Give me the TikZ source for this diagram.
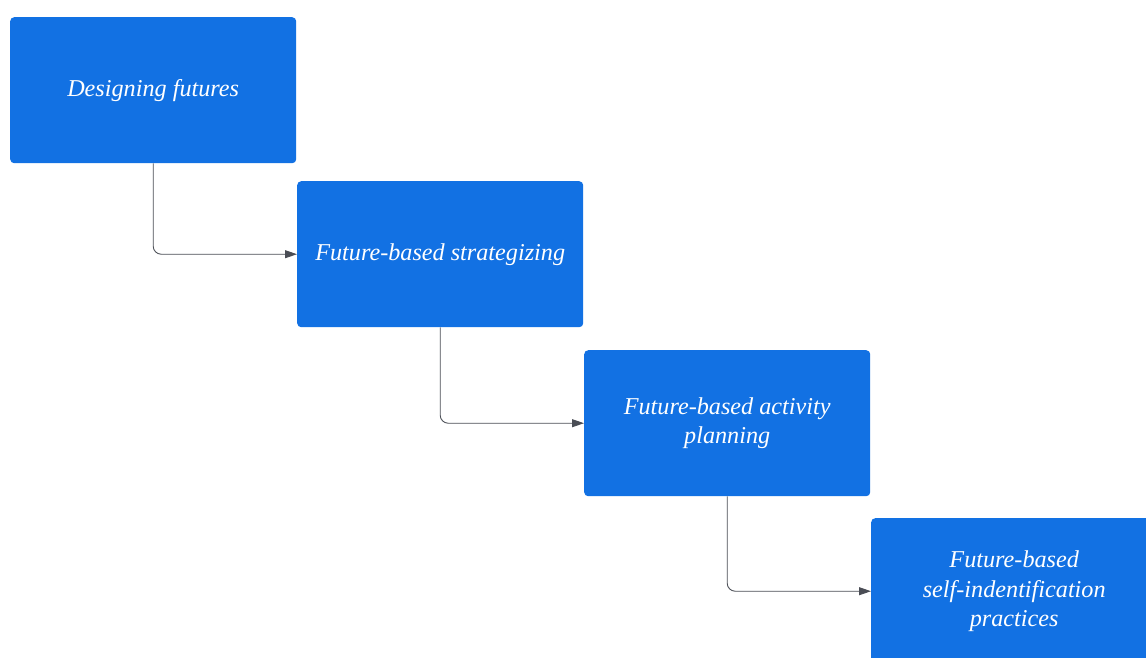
\documentclass[tikz,border=0pt]{standalone}
\usepackage{fontspec}
\setmainfont{Liberation Serif}
\usetikzlibrary{arrows.meta}
\definecolor{boxblue}{HTML}{1271E3}
\definecolor{linegray}{HTML}{4A4D55}
\begin{document}
\begin{tikzpicture}[x=1pt,y=-1pt,
  stepbox/.style={fill=boxblue, draw=none, rounded corners=4pt, minimum width=286pt, minimum height=146pt, inner sep=0pt, text=white, align=center, font=\fontsize{24.2}{29.5}\selectfont\itshape, anchor=north west},
  conn/.style={draw=linegray, line width=0.9pt, rounded corners=8pt, -{Triangle[length=12pt,width=8pt]}}]
\useasboundingbox (0,0) rectangle (1146,657);
\clip (0,0) rectangle (1146,657);
\node[stepbox] (b1) at (10,17) {Designing futures};
\node[stepbox] (b2) at (297,181) {Future-based strategizing};
\node[stepbox] (b3) at (584,350) {Future-based activity\\planning};
\node[stepbox] (b4) at (871,518) {Future-based\\self-indentification\\practices};
\draw[conn] (b1.south) |- (b2.west);
\draw[conn] (b2.south) |- (b3.west);
\draw[conn] (b3.south) |- (b4.west);
\end{tikzpicture}
\end{document}
